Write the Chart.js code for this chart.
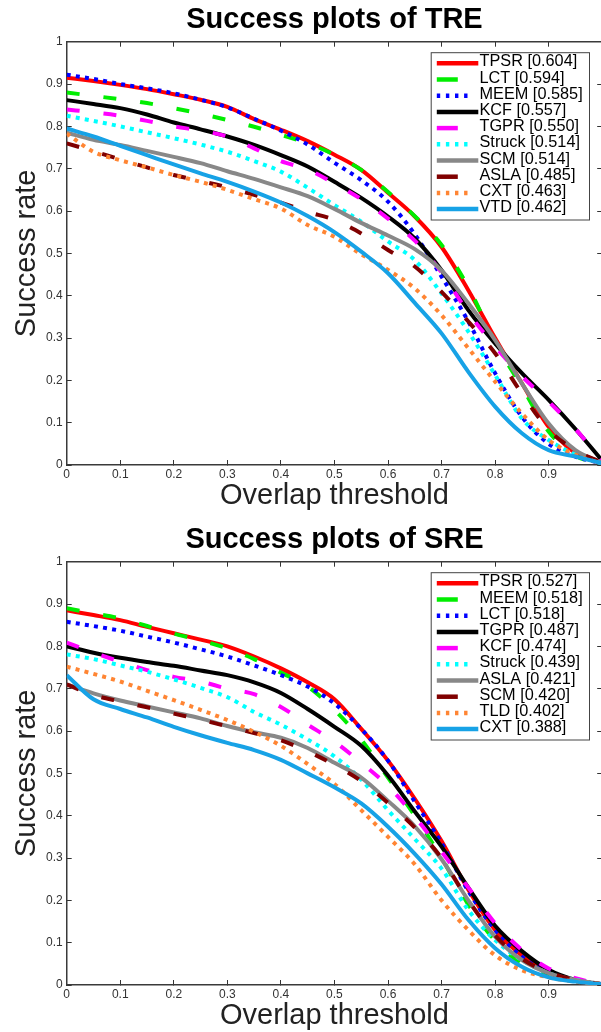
<!DOCTYPE html>
<html><head><meta charset="utf-8">
<script src="https://cdn.jsdelivr.net/npm/chart.js@4.4.1/dist/chart.umd.min.js"></script>
<style>
html,body{margin:0;padding:0;background:#fff;overflow:hidden;width:601px;height:1032px}
.wrap{position:absolute;left:0;width:601px;overflow:hidden;background:#fff}
canvas{display:block}
</style></head><body>
<div class="wrap" style="top:0;height:520px"><canvas id="c1" width="610" height="520" style="width:610px;height:520px"></canvas></div>
<div class="wrap" style="top:520px;height:512px"><canvas id="c2" width="610" height="520" style="width:610px;height:520px"></canvas></div>
<script>
// ---- data ----
const thresholds = [0,0.05,0.1,0.15,0.2,0.25,0.3,0.35,0.4,0.45,0.5,0.55,0.6,0.65,0.7,0.75,0.8,0.85,0.9,0.95,1];
const tickValues = [0,0.1,0.2,0.3,0.4,0.5,0.6,0.7,0.8,0.9,1];

const treLabels = ['TPSR [0.604]','LCT [0.594]','MEEM [0.585]','KCF [0.557]','TGPR [0.550]','Struck [0.514]','SCM [0.514]','ASLA [0.485]','CXT [0.463]','VTD [0.462]'];
const treTPSR   = [0.915,0.907,0.898,0.888,0.876,0.863,0.846,0.817,0.792,0.765,0.733,0.697,0.643,0.587,0.515,0.413,0.300,0.193,0.090,0.028,0.004];
const treLCT    = [0.880,0.872,0.864,0.855,0.843,0.830,0.815,0.799,0.780,0.760,0.733,0.697,0.645,0.588,0.520,0.420,0.290,0.185,0.079,0.022,0.003];
const treMEEM   = [0.922,0.912,0.900,0.890,0.878,0.863,0.845,0.818,0.790,0.757,0.714,0.673,0.622,0.545,0.445,0.339,0.217,0.114,0.050,0.020,0.004];
const treKCF    = [0.862,0.853,0.843,0.828,0.809,0.793,0.776,0.756,0.732,0.705,0.669,0.631,0.587,0.535,0.460,0.366,0.287,0.217,0.154,0.085,0.010];
const treTGPR   = [0.840,0.833,0.825,0.813,0.800,0.790,0.776,0.748,0.718,0.698,0.665,0.628,0.582,0.530,0.455,0.360,0.280,0.210,0.150,0.085,0.010];
const treStruck = [0.825,0.813,0.800,0.786,0.772,0.757,0.740,0.718,0.693,0.655,0.614,0.575,0.528,0.484,0.405,0.315,0.213,0.110,0.059,0.025,0.003];
const treSCM    = [0.785,0.768,0.756,0.742,0.728,0.713,0.694,0.676,0.656,0.635,0.605,0.572,0.542,0.510,0.460,0.382,0.295,0.193,0.098,0.035,0.005];
const treASLA   = [0.760,0.741,0.722,0.703,0.685,0.671,0.656,0.638,0.620,0.598,0.579,0.547,0.508,0.469,0.409,0.339,0.264,0.169,0.083,0.035,0.005];
const treCXT    = [0.783,0.740,0.720,0.703,0.685,0.669,0.650,0.628,0.606,0.567,0.539,0.498,0.461,0.417,0.354,0.276,0.197,0.122,0.059,0.024,0.003];
const treVTD    = [0.795,0.776,0.754,0.732,0.710,0.689,0.669,0.646,0.620,0.588,0.550,0.504,0.453,0.383,0.311,0.220,0.138,0.075,0.035,0.020,0.004];

const sreLabels = ['TPSR [0.527]','MEEM [0.518]','LCT [0.518]','TGPR [0.487]','KCF [0.474]','Struck [0.439]','ASLA [0.421]','SCM [0.420]','TLD [0.402]','CXT [0.388]'];
const sreTPSR   = [0.885,0.874,0.862,0.846,0.831,0.816,0.800,0.776,0.748,0.715,0.675,0.605,0.530,0.440,0.340,0.225,0.130,0.070,0.030,0.010,0.002];
const sreMEEM   = [0.890,0.878,0.866,0.848,0.830,0.814,0.795,0.770,0.738,0.705,0.650,0.580,0.490,0.400,0.300,0.190,0.105,0.050,0.024,0.010,0.002];
const sreLCT    = [0.858,0.848,0.837,0.823,0.809,0.793,0.776,0.755,0.732,0.705,0.665,0.605,0.530,0.433,0.335,0.222,0.130,0.067,0.028,0.010,0.002];
const sreTGPR   = [0.800,0.785,0.773,0.763,0.754,0.743,0.732,0.715,0.690,0.652,0.610,0.565,0.495,0.410,0.327,0.230,0.140,0.080,0.036,0.012,0.001];
const sreKCF    = [0.809,0.785,0.764,0.744,0.728,0.717,0.700,0.687,0.657,0.615,0.575,0.525,0.470,0.398,0.315,0.230,0.146,0.083,0.039,0.016,0.002];
const sreStruck = [0.781,0.770,0.755,0.740,0.722,0.702,0.680,0.645,0.615,0.580,0.540,0.485,0.413,0.345,0.275,0.177,0.106,0.059,0.028,0.012,0.002];
const sreASLA   = [0.710,0.689,0.672,0.658,0.644,0.630,0.612,0.597,0.584,0.560,0.525,0.490,0.435,0.375,0.297,0.200,0.114,0.059,0.028,0.012,0.002];
const sreSCM    = [0.710,0.685,0.670,0.656,0.641,0.627,0.611,0.595,0.578,0.552,0.520,0.482,0.430,0.372,0.300,0.200,0.117,0.062,0.030,0.012,0.002];
const sreTLD    = [0.752,0.735,0.717,0.695,0.673,0.650,0.626,0.598,0.565,0.522,0.475,0.413,0.350,0.285,0.200,0.130,0.070,0.035,0.018,0.008,0.002];
const sreCXT    = [0.732,0.675,0.652,0.632,0.610,0.590,0.572,0.555,0.532,0.500,0.467,0.429,0.374,0.310,0.238,0.154,0.087,0.043,0.018,0.008,0.002];

// ---- styles (by rank) ----
const rankColors = ['#ff0000','#00ee00','#0000ff','#000000','#ff00ff','#00ffff','#888888','#800000','#ff8533','#17a2e6'];
const rankKinds  = ['solid','dash','dot','solid','dash','dot','solid','dash','dot','solid'];
const FONT = '"Liberation Sans", Arial, Helvetica, sans-serif';

function dashFor(kind){ return kind === 'dash' ? [13, 24] : (kind === 'dot' ? [4, 5.2] : []); }

const boxLegend = {
  id: 'boxLegend',
  afterDraw(chart) {
    const {ctx, chartArea} = chart;
    const ds = chart.data.datasets;
    const w = 158.3, h = 167.3;
    const right = chartArea.right - 12.7, top = chartArea.top + 11;
    const left = right - w;
    ctx.save();
    ctx.fillStyle = '#ffffff';
    ctx.fillRect(left, top, w, h);
    ctx.strokeStyle = '#444';
    ctx.lineWidth = 1;
    ctx.strokeRect(left, top, w, h);
    ds.forEach((d, i) => {
      const y = top + 10.6 + i * 16.2;
      const x0 = left + 5.6;
      ctx.strokeStyle = d.borderColor;
      ctx.lineWidth = 4.5;
      ctx.lineCap = 'butt';
      ctx.beginPath();
      if (d.kind === 'solid') { ctx.setLineDash([]); ctx.moveTo(x0, y); ctx.lineTo(x0 + 41.5, y); }
      else if (d.kind === 'dash') { ctx.setLineDash([]); ctx.moveTo(x0, y); ctx.lineTo(x0 + 21, y); }
      else { ctx.setLineDash([3.4, 5.7]); ctx.moveTo(x0, y); ctx.lineTo(x0 + 33, y); }
      ctx.stroke();
      ctx.setLineDash([]);
      ctx.fillStyle = '#000';
      ctx.font = '16.3px ' + FONT;
      ctx.textBaseline = 'middle';
      ctx.textAlign = 'left';
      ctx.fillText(d.label, left + 48.3, y - 1.3);
    });
    ctx.restore();
  }
};

function fmt(v){ return String(Math.round(v * 10) / 10); }

function makeChart(id, titleText, labels, series) {
  const datasets = series.map((vals, i) => ({
    label: labels[i],
    data: thresholds.map((t, k) => ({x: t, y: vals[k]})),
    borderColor: rankColors[i],
    backgroundColor: rankColors[i],
    borderWidth: 4,
    borderDash: dashFor(rankKinds[i]),
    borderCapStyle: 'butt',
    borderJoinStyle: 'round',
    kind: rankKinds[i],
    pointRadius: 0,
    cubicInterpolationMode: 'monotone',
    fill: false,
    order: series.length - i
  }));
  const gridOpts = {display: true, drawOnChartArea: false, drawTicks: true, tickLength: -5, color: '#333', lineWidth: 1};
  const borderOpts = {display: true, color: '#3a3a3a', width: 1.5};
  return new Chart(document.getElementById(id), {
    type: 'line',
    data: {datasets},
    options: {
      responsive: false,
      animation: false,
      devicePixelRatio: 1,
      layout: {padding: {left: 0, right: 6.3, top: 0, bottom: 0}},
      plugins: {
        legend: {display: false},
        tooltip: {enabled: false},
        title: {
          display: true, text: titleText, fullSize: false, color: '#000',
          font: {family: FONT, size: 29, weight: 'bold', lineHeight: 1},
          padding: {top: 5, bottom: 7.7}
        }
      },
      scales: {
        x: {
          type: 'linear', position: 'bottom', min: 0, max: 1,
          afterBuildTicks: s => { s.ticks = tickValues.map(v => ({value: v})); },
          afterFit: s => { s.height = 55; },
          ticks: {font: {family: FONT, size: 12}, color: '#333', padding: 7.8, maxRotation: 0,
                  callback: v => (v >= 1 ? '' : fmt(v))},
          grid: gridOpts, border: borderOpts,
          title: {display: true, text: 'Overlap threshold', color: '#222',
                  font: {family: FONT, size: 29, lineHeight: 1}, padding: {top: 0, bottom: 9.5}}
        },
        y: {
          type: 'linear', position: 'left', min: 0, max: 1,
          afterBuildTicks: s => { s.ticks = tickValues.map(v => ({value: v})); },
          afterFit: s => { s.width = 66.7; },
          ticks: {font: {family: FONT, size: 12}, color: '#333', padding: 9, callback: v => fmt(v)},
          grid: gridOpts, border: borderOpts,
          title: {display: true, text: 'Success rate', color: '#222',
                  font: {family: FONT, size: 29, lineHeight: 1}, padding: {top: 12, bottom: 0}}
        },
        x2: {
          type: 'linear', axis: 'x', position: 'top', min: 0, max: 1,
          afterBuildTicks: s => { s.ticks = tickValues.map(v => ({value: v})); },
          afterFit: s => { s.height = 0; },
          ticks: {display: false},
          grid: gridOpts, border: borderOpts
        },
        y2: {
          type: 'linear', axis: 'y', position: 'right', min: 0, max: 1,
          afterBuildTicks: s => { s.ticks = tickValues.map(v => ({value: v})); },
          afterFit: s => { s.width = 0; },
          ticks: {display: false},
          grid: gridOpts, border: borderOpts
        }
      }
    },
    plugins: [boxLegend]
  });
}

makeChart('c1', 'Success plots of TRE', treLabels,
  [treTPSR, treLCT, treMEEM, treKCF, treTGPR, treStruck, treSCM, treASLA, treCXT, treVTD]);
makeChart('c2', 'Success plots of SRE', sreLabels,
  [sreTPSR, sreMEEM, sreLCT, sreTGPR, sreKCF, sreStruck, sreASLA, sreSCM, sreTLD, sreCXT]);
</script>
</body></html>
